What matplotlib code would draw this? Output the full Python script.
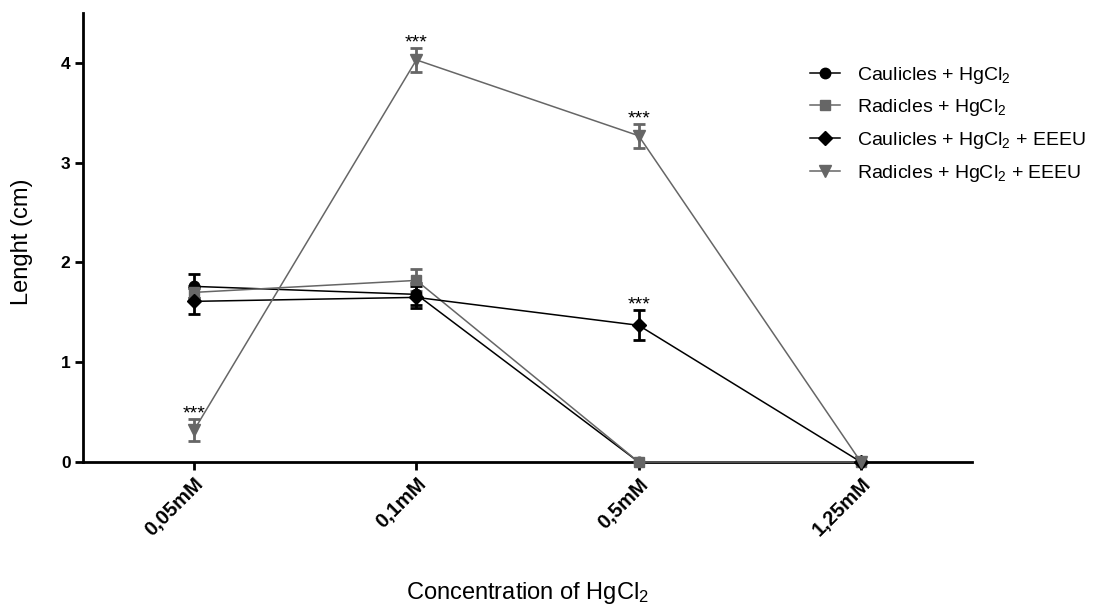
import matplotlib
matplotlib.use("Agg")
import matplotlib.pyplot as plt
from matplotlib.lines import Line2D
import numpy as np

plt.rcParams['font.family'] = ['Liberation Sans', 'DejaVu Sans']
plt.rcParams['mathtext.fontset'] = 'custom'
plt.rcParams['mathtext.rm'] = 'Liberation Sans'
plt.rcParams['mathtext.it'] = 'Liberation Sans:italic'
plt.rcParams['mathtext.bf'] = 'Liberation Sans:bold'

categories = ["0,05mM", "0,1mM", "0,5mM", "1,25mM"]
series_names = ["Caulicles + HgCl$_2$", "Radicles + HgCl$_2$",
                "Caulicles + HgCl$_2$ + EEEU", "Radicles + HgCl$_2$ + EEEU"]
caulicles_hg = [1.76, 1.68, 0.0, 0.0]
caulicles_hg_err = [0.12, 0.11, 0.0, 0.0]
radicles_hg = [1.70, 1.82, 0.0, 0.0]
radicles_hg_err = [0.06, 0.11, 0.0, 0.0]
caulicles_hg_eeeu = [1.61, 1.65, 1.37, 0.0]
caulicles_hg_eeeu_err = [0.13, 0.11, 0.15, 0.0]
radicles_hg_eeeu = [0.32, 4.03, 3.27, 0.0]
radicles_hg_eeeu_err = [0.11, 0.12, 0.12, 0.0]
# significance marks: (series index, category index)
signif = [(3, 0), (3, 1), (3, 2), (2, 2)]

values = [caulicles_hg, radicles_hg, caulicles_hg_eeeu, radicles_hg_eeeu]
errors = [caulicles_hg_err, radicles_hg_err, caulicles_hg_eeeu_err, radicles_hg_eeeu_err]
colors = ['#000000', '#666666', '#000000', '#666666']
markers = ['o', 's', 'D', 'v']
msizes = [7.5, 7.5, 7, 8]

fig = plt.figure(figsize=(11.04, 6.06), dpi=100)
ax = fig.add_axes([83/1104, 1-462/606, (972-83)/1104, (462-13)/606])

x = np.arange(1, len(categories)+1)
handles = []
for v, e, c, m, ms, name in zip(values, errors, colors, markers, msizes, series_names):
    ax.errorbar(x, v, yerr=e, color=c, marker=m, markersize=ms, linewidth=1.1,
                elinewidth=2, capsize=4.5, capthick=2, clip_on=False, zorder=3)
    handles.append(Line2D([], [], color=c, marker=m, markersize=ms, linewidth=1.1))

for si, ci in signif:
    ax.text(x[ci], values[si][ci] + errors[si][ci] + 0.005, "***", ha='center',
            va='baseline', fontsize=14)

ax.set_xlim(0.5, 4.5)
ax.set_ylim(0, 4.5)
ax.set_yticks([0, 1, 2, 3, 4])
ax.set_xticks(x)
ax.set_xticklabels(categories, rotation=45, ha='right', rotation_mode='anchor',
                   fontweight='bold', fontsize=14.5)
for lbl in ax.get_yticklabels():
    lbl.set_fontweight('bold')
    lbl.set_fontsize(12.5)
ax.spines['top'].set_visible(False)
ax.spines['right'].set_visible(False)
ax.spines['left'].set_linewidth(2)
ax.spines['bottom'].set_linewidth(2)
ax.tick_params(axis='both', direction='out', length=6, width=2, pad=3)
ax.set_ylabel("Lenght (cm)", fontsize=17)
ax.yaxis.set_label_coords(-0.056, 0.49)
ax.set_xlabel("Concentration of HgCl$_2$", fontsize=17)
ax.xaxis.set_label_coords(0.5, -0.263)

leg = ax.legend(handles=handles, labels=series_names, loc='upper left',
                bbox_to_anchor=(0.818, 0.885), frameon=False, fontsize=14,
                handlelength=1.55, labelspacing=0.6, handletextpad=0.88,
                borderaxespad=0.0, borderpad=0.0)

fig.savefig("out.png", dpi=100)
